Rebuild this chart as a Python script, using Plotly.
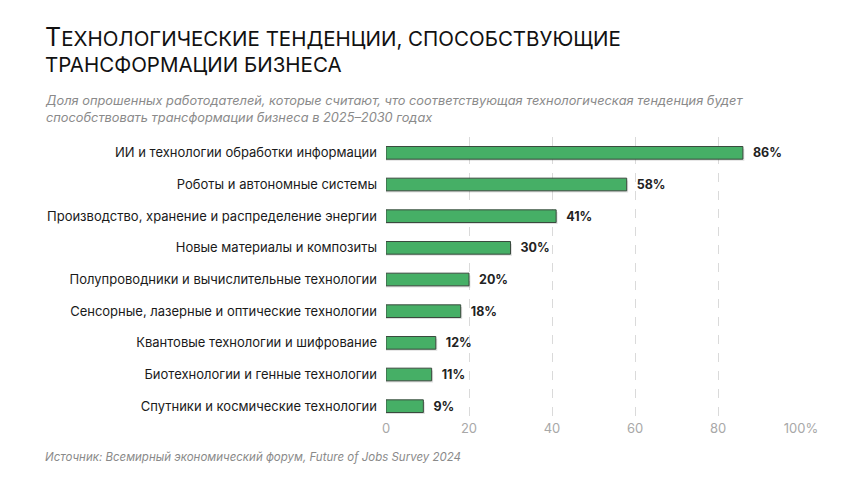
import plotly.graph_objects as go

categories = [
    "ИИ и технологии обработки информации",
    "Роботы и автономные системы",
    "Производство, хранение и распределение энергии",
    "Новые материалы и композиты",
    "Полупроводники и вычислительные технологии",
    "Сенсорные, лазерные и оптические технологии",
    "Квантовые технологии и шифрование",
    "Биотехнологии и генные технологии",
    "Спутники и космические технологии",
]
values = [86, 58, 41, 30, 20, 18, 12, 11, 9]
tick_vals = [0, 20, 40, 60, 80, 100]
tick_text = ["0", "20", "40", "60", "80", "100%"]

FONT = "Inter"
GREEN = "#46AF66"

fig = go.Figure()
# soft shadow
fig.add_trace(go.Bar(
    y=categories, x=[v + 0.35 for v in values], orientation="h",
    width=0.38, offset=-0.13,
    marker=dict(color="rgba(0,0,0,0.13)", line=dict(width=0)),
    hoverinfo="skip", showlegend=False,
))
fig.add_trace(go.Bar(
    y=categories, x=values, orientation="h",
    width=0.4, offset=-0.2,
    marker=dict(color=GREEN, line=dict(color="#3a4a3e", width=1)),
    text=[f"  <b>{v}%</b>" for v in values],
    textposition="outside", constraintext="none",
    textfont=dict(family=FONT, size=12.5, color="#222"),
    cliponaxis=False, showlegend=False,
))

def smallcaps(s, big=25, small=20.5):
    out = []
    for w in s.split(" "):
        if w[0].isupper():
            out.append(f"<span style='font-size:{big}px'>{w[0]}</span>{w[1:].upper()}")
        else:
            out.append(w.upper())
    return " ".join(out)

LX = -386 / 415 + 43 / 415

fig.update_layout(
    width=860, height=484,
    margin=dict(l=386, r=59, t=137, b=62),
    paper_bgcolor="white", plot_bgcolor="white",
    barmode="overlay",
    font=dict(family=FONT, color="#222"),
    xaxis=dict(range=[0, 100], tickvals=tick_vals, ticktext=tick_text,
               showgrid=True, gridcolor="#dadada", griddash="dash", gridwidth=1,
               zeroline=False, showline=False,
               tickfont=dict(family=FONT, size=13, color="#a8a8a8"),
               ticks="", ticklabelstandoff=-3),
    yaxis=dict(autorange="reversed", showgrid=False, zeroline=False,
               tickfont=dict(family=FONT, size=13, color="#1a1a1a"),
               ticks="", ticklabelstandoff=8),
)

fig.add_annotation(
    text=smallcaps("Технологические тенденции, способствующие"),
    xref="paper", yref="paper", xanchor="left", yanchor="middle",
    x=LX, y=1 + (137 - 37) / 285,
    showarrow=False, font=dict(family=FONT, size=20.5, color="#111"))
fig.add_annotation(
    text="ТРАНСФОРМАЦИИ БИЗНЕСА",
    xref="paper", yref="paper", xanchor="left", yanchor="middle",
    x=LX, y=1 + (137 - 64) / 285,
    showarrow=False, font=dict(family=FONT, size=20.5, color="#111"))
fig.add_annotation(
    text="<i>Доля опрошенных работодателей, которые считают, что соответствующая технологическая тенденция будет<br>"
         "способствовать трансформации бизнеса в 2025–2030 годах</i>",
    xref="paper", yref="paper", xanchor="left", yanchor="middle", align="left",
    x=LX, y=1 + (137 - 109) / 285,
    showarrow=False, font=dict(family=FONT, size=12.8, color="#8a8a8a"))
fig.add_annotation(
    text="<i>Источник: Всемирный экономический форум, Future of Jobs Survey 2024</i>",
    xref="paper", yref="paper", xanchor="left", yanchor="middle",
    x=LX, y=-(457 - 422) / 285,
    showarrow=False, font=dict(family=FONT, size=11.5, color="#8a8a8a"))

fig.write_html("out.html")
